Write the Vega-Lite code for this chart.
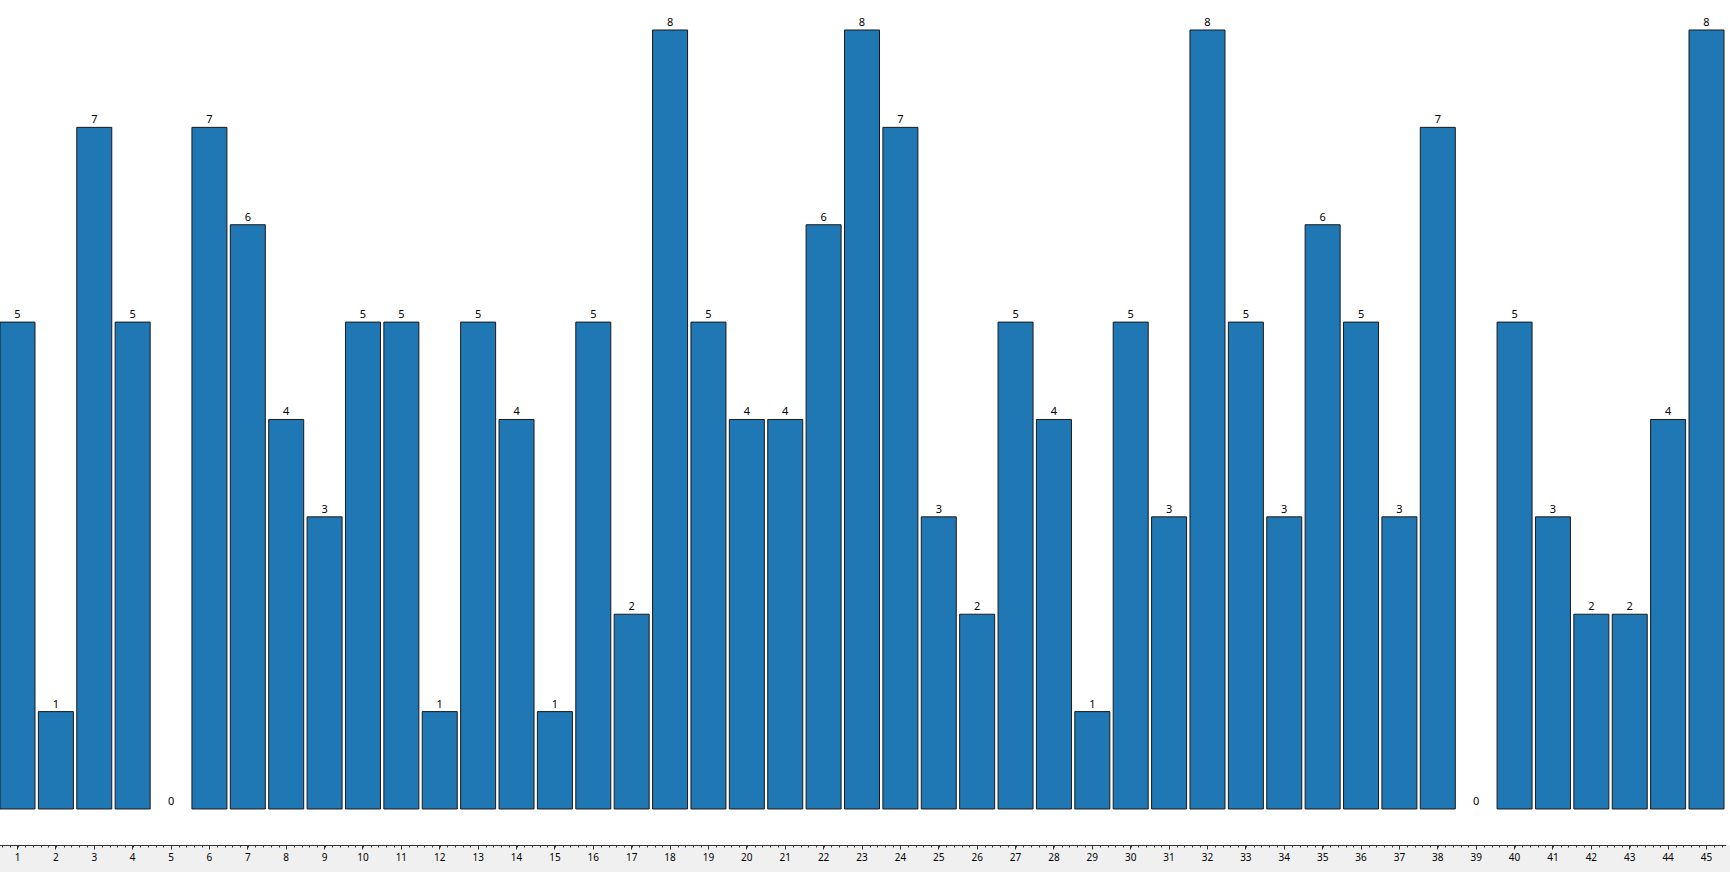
{
  "$schema": "https://vega.github.io/schema/vega-lite/v6.json",
  "width": 1730,
  "height": 845,
  "padding": {"left": 0, "top": 0, "right": 0, "bottom": 27},
  "autosize": {"type": "none"},
  "background": "#f0f0f0",
  "config": {"view": {"fill": "white", "stroke": null}},
  "data": {"values": [
    {"idx": 1, "v": 5}, {"idx": 2, "v": 1}, {"idx": 3, "v": 7}, {"idx": 4, "v": 5}, {"idx": 5, "v": 0},
    {"idx": 6, "v": 7}, {"idx": 7, "v": 6}, {"idx": 8, "v": 4}, {"idx": 9, "v": 3}, {"idx": 10, "v": 5},
    {"idx": 11, "v": 5}, {"idx": 12, "v": 1}, {"idx": 13, "v": 5}, {"idx": 14, "v": 4}, {"idx": 15, "v": 1},
    {"idx": 16, "v": 5}, {"idx": 17, "v": 2}, {"idx": 18, "v": 8}, {"idx": 19, "v": 5}, {"idx": 20, "v": 4},
    {"idx": 21, "v": 4}, {"idx": 22, "v": 6}, {"idx": 23, "v": 8}, {"idx": 24, "v": 7}, {"idx": 25, "v": 3},
    {"idx": 26, "v": 2}, {"idx": 27, "v": 5}, {"idx": 28, "v": 4}, {"idx": 29, "v": 1}, {"idx": 30, "v": 5},
    {"idx": 31, "v": 3}, {"idx": 32, "v": 8}, {"idx": 33, "v": 5}, {"idx": 34, "v": 3}, {"idx": 35, "v": 6},
    {"idx": 36, "v": 5}, {"idx": 37, "v": 3}, {"idx": 38, "v": 7}, {"idx": 39, "v": 0}, {"idx": 40, "v": 5},
    {"idx": 41, "v": 3}, {"idx": 42, "v": 2}, {"idx": 43, "v": 2}, {"idx": 44, "v": 4}, {"idx": 45, "v": 8}
  ]},
  "layer": [
    {
      "layer": [
        {
          "mark": {"type": "bar", "fill": "#1f77b4", "stroke": "#1a1a1a", "strokeWidth": 1},
          "encoding": {
            "x": {"field": "idx", "type": "ordinal", "sort": null,
              "scale": {"range": [-1.7, 1725.7], "paddingInner": 0.088, "paddingOuter": 0.044},
              "axis": {"orient": "bottom", "title": null, "labelAngle": 0, "labelFont": "Noto Sans", "labelFontSize": 10, "labelColor": "#000000",
                "domain": true, "domainColor": "#333333", "domainWidth": 1, "tickColor": "#333333", "tickSize": 4, "labelPadding": 3, "grid": false}},
            "y": {"field": "v", "type": "quantitative", "scale": {"domain": [-0.37, 8.308], "nice": false, "zero": false}, "axis": null},
            "y2": {"datum": 0},
            "strokeOpacity": {"condition": {"test": "datum.v == 0", "value": 0}, "value": 1}
          }
        },
        {
          "mark": {"type": "text", "baseline": "bottom", "dy": -2, "font": "Noto Sans", "fontSize": 11, "color": "#000000"},
          "encoding": {
            "x": {"field": "idx", "type": "ordinal", "sort": null},
            "y": {"field": "v", "type": "quantitative"},
            "text": {"field": "v", "type": "quantitative"}
          }
        }
      ]
    },
    {
      "mark": {"type": "point", "opacity": 0},
      "encoding": {
        "x": {"field": "idx", "type": "quantitative",
          "scale": {"domain": [0.544, 45.613], "nice": false, "zero": false},
          "axis": {"orient": "bottom", "title": null, "labels": false, "domain": false, "grid": false, "tickCount": 225, "tickSize": 2, "tickColor": "#333333"}},
        "y": {"field": "v", "type": "quantitative"}
      }
    }
  ],
  "resolve": {"scale": {"x": "independent"}, "axis": {"x": "independent"}}
}
